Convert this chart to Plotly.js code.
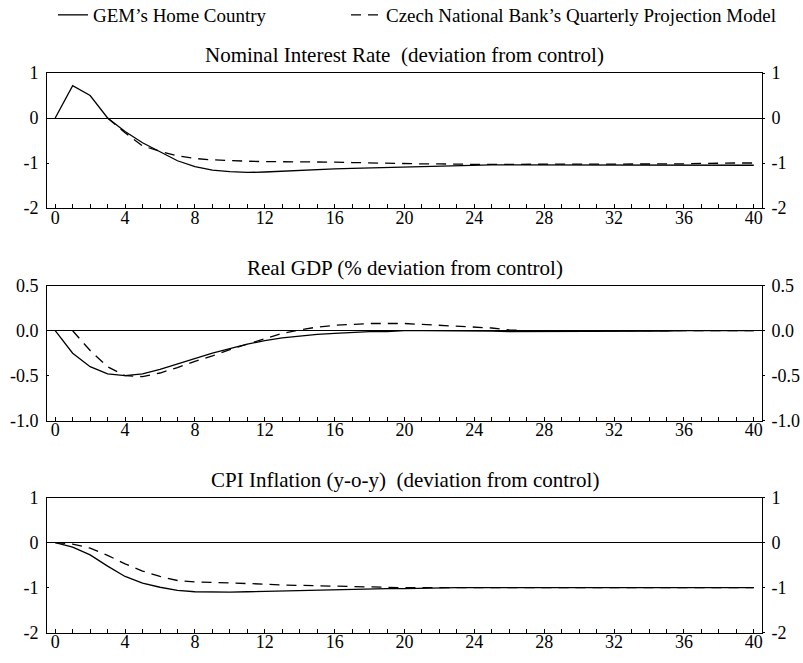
<!DOCTYPE html>
<html>
<head>
<meta charset="utf-8">
<script src="https://cdn.plot.ly/plotly-3.0.1.min.js"></script>
<style>html,body{margin:0;padding:0;background:#fff;}#chart{width:803px;height:663px;}</style>
</head>
<body>
<div id="chart"></div>
<script>
const quarters = [0,1,2,3,4,5,6,7,8,9,10,11,12,13,14,15,16,17,18,19,20,21,22,23,24,25,26,27,28,29,30,31,32,33,34,35,36,37,38,39,40];
const xTickVals = [0,4,8,12,16,20,24,28,32,36,40];
const seriesNames = ["GEM\u2019s Home Country", "Czech National Bank\u2019s Quarterly Projection Model"];
const panelTitles = [
  "Nominal Interest Rate \u00a0(deviation from control)",
  "Real GDP (% deviation from control)",
  "CPI Inflation (y-o-y) \u00a0(deviation from control)"
];
// Nominal interest rate
const rateGEM = [0,0.72,0.50,0.0,-0.30,-0.55,-0.75,-0.95,-1.08,-1.16,-1.19,-1.21,-1.20,-1.18,-1.16,-1.14,-1.13,-1.12,-1.11,-1.10,-1.08,-1.07,-1.06,-1.05,-1.04,-1.04,-1.04,-1.04,-1.04,-1.04,-1.04,-1.04,-1.04,-1.04,-1.04,-1.04,-1.04,-1.05,-1.05,-1.05,-1.05];
const rateQPM = [null,null,null,0.0,-0.33,-0.62,-0.74,-0.84,-0.90,-0.93,-0.95,-0.96,-0.97,-0.97,-0.97,-0.97,-0.98,-0.99,-1.0,-1.0,-1.01,-1.02,-1.02,-1.03,-1.03,-1.03,-1.03,-1.03,-1.03,-1.03,-1.03,-1.03,-1.03,-1.03,-1.03,-1.03,-1.02,-1.01,-1.0,-1.0,-1.0];
// Real GDP
const gdpGEM = [0,-0.25,-0.40,-0.48,-0.50,-0.48,-0.43,-0.37,-0.31,-0.25,-0.20,-0.15,-0.11,-0.08,-0.06,-0.04,-0.03,-0.02,-0.01,-0.01,0.0,0.0,0.0,0.0,0.0,-0.005,-0.01,-0.01,-0.01,-0.01,-0.01,-0.01,-0.01,-0.01,-0.01,-0.005,0.0,0.0,0.0,0.0,0.0];
const gdpQPM = [null,0.0,-0.22,-0.40,-0.50,-0.51,-0.47,-0.41,-0.34,-0.28,-0.21,-0.15,-0.09,-0.03,0.01,0.04,0.06,0.07,0.08,0.08,0.08,0.07,0.06,0.05,0.04,0.03,0.01,0.0,0.0,0.0,0.0,0.0,0.0,0.0,0.0,0.0,0.0,0.0,0.0,0.0,0.0];
// CPI inflation
const cpiGEM = [0,-0.10,-0.27,-0.52,-0.75,-0.90,-0.99,-1.06,-1.09,-1.10,-1.10,-1.09,-1.08,-1.07,-1.06,-1.05,-1.05,-1.04,-1.03,-1.02,-1.02,-1.01,-1.01,-1.0,-1.0,-1.0,-1.0,-1.0,-1.0,-1.0,-1.0,-1.0,-1.0,-1.0,-1.0,-1.0,-1.0,-1.0,-1.0,-1.0,-1.0];
const cpiQPM = [0,-0.03,-0.12,-0.28,-0.47,-0.63,-0.75,-0.84,-0.87,-0.88,-0.90,-0.91,-0.92,-0.94,-0.95,-0.96,-0.97,-0.98,-0.99,-1.0,-1.0,-1.0,-1.0,-1.0,-1.0,-1.0,-1.0,-1.0,-1.0,-1.0,-1.0,-1.0,-1.0,-1.0,-1.0,-1.0,-1.0,-1.0,-1.0,-1.0,-1.0];

const yRanges = [[-2,1],[-1.0,0.5],[-2,1]];
const yTickVals = [[-2,-1,0,1],[-1.0,-0.5,0.0,0.5],[-2,-1,0,1]];
const yTickText = [["-2","-1","0","1"],["-1.0","-0.5","0.0","0.5"],["-2","-1","0","1"]];

const FONT = "Liberation Serif, Times New Roman, serif";
const TICK = 18;
const W = 803, H = 663, ML = 47, MR = 41, MT = 73, MB = 30;
const PH = H - MT - MB;
const panelPx = [[73,208],[285.7,420.7],[497.7,632.7]];
function dom(p){ return [(H - MB - p[1]) / PH, (H - MB - p[0]) / PH]; }

const solidData = [rateGEM, gdpGEM, cpiGEM];
const dashData = [rateQPM, gdpQPM, cpiQPM];
const traces = [];
for (let i = 0; i < 3; i++) {
  const xa = i === 0 ? 'x' : 'x' + (i + 1);
  const ya = i === 0 ? 'y' : 'y' + (i + 1);
  traces.push({x: quarters, y: solidData[i], xaxis: xa, yaxis: ya, type: 'scatter', mode: 'lines',
    name: seriesNames[0], legend: 'legend', legendgroup: 'a', showlegend: i === 0,
    line: {color: '#000', width: 1.3}});
  traces.push({x: quarters, y: dashData[i], xaxis: xa, yaxis: ya, type: 'scatter', mode: 'lines',
    name: seriesNames[1], legend: 'legend2', legendgroup: 'b', showlegend: i === 0, connectgaps: false,
    line: {color: '#000', width: 1.3, dash: '10px,7px'}});
  // empty trace so the right-hand mirror axis is drawn
  traces.push({x: [null], y: [null], xaxis: xa, yaxis: 'y' + (i + 4), type: 'scatter', mode: 'lines',
    showlegend: false, hoverinfo: 'skip'});
}

function legendAt(px) {
  return {orientation: 'h', x: px / W, xref: 'container', xanchor: 'left', y: 1 - 15 / H, yanchor: 'middle', yref: 'container',
    font: {family: FONT, size: 19, color: '#000'}, bgcolor: 'rgba(0,0,0,0)', itemwidth: 30};
}

const layout = {
  width: W, height: H,
  margin: {l: ML, r: MR, t: MT, b: MB},
  paper_bgcolor: '#fff', plot_bgcolor: '#fff',
  font: {family: FONT, size: TICK, color: '#000'},
  showlegend: true,
  legend: legendAt(53),
  legend2: legendAt(346),
  annotations: [],
  shapes: []
};

for (let i = 0; i < 3; i++) {
  const s = i === 0 ? '' : String(i + 1);
  const d = dom(panelPx[i]);
  layout['xaxis' + s] = {
    domain: [0, 1], anchor: 'y' + s, range: [-0.47, 40.47],
    tickmode: 'array', tickvals: xTickVals,
    ticks: 'inside', ticklen: 4, tickcolor: '#000', tickwidth: 1, ticklabelstandoff: -7,
    minor: {tickmode: 'linear', tick0: 0, dtick: 1, ticks: 'inside', ticklen: 4, tickcolor: '#000', tickwidth: 1},
    showline: true, linecolor: '#000', linewidth: 1, mirror: true,
    showgrid: false, zeroline: false, fixedrange: true,
    tickfont: {family: FONT, size: TICK, color: '#000'}
  };
  layout['yaxis' + s] = {
    domain: d, anchor: 'x' + s, range: yRanges[i],
    tickmode: 'array', tickvals: yTickVals[i], ticktext: yTickText[i],
    ticks: 'inside', ticklen: 2, tickcolor: '#000', ticklabelstandoff: 4,
    showline: true, linecolor: '#000', linewidth: 1, mirror: true,
    showgrid: false, zeroline: true, zerolinecolor: '#000', zerolinewidth: 1,
    tickfont: {family: FONT, size: TICK, color: '#000'}, fixedrange: true
  };
  layout['yaxis' + (i + 4)] = {
    domain: d, anchor: 'x' + s, overlaying: 'y' + s, side: 'right', range: yRanges[i],
    tickmode: 'array', tickvals: yTickVals[i], ticktext: yTickText[i],
    ticks: 'outside', ticklen: 2, tickcolor: '#000', ticklabelstandoff: 3,
    showline: false, showgrid: false, zeroline: false,
    tickfont: {family: FONT, size: TICK, color: '#000'}, fixedrange: true
  };
  layout.annotations.push({
    text: panelTitles[i], xref: 'paper', yref: 'paper', x: 0.5, xanchor: 'center',
    y: d[1], yanchor: 'bottom', yshift: 4, showarrow: false,
    font: {family: FONT, size: 21, color: '#000'}
  });
}

Plotly.newPlot('chart', traces, layout, {displayModeBar: false, staticPlot: true});
</script>
</body>
</html>
